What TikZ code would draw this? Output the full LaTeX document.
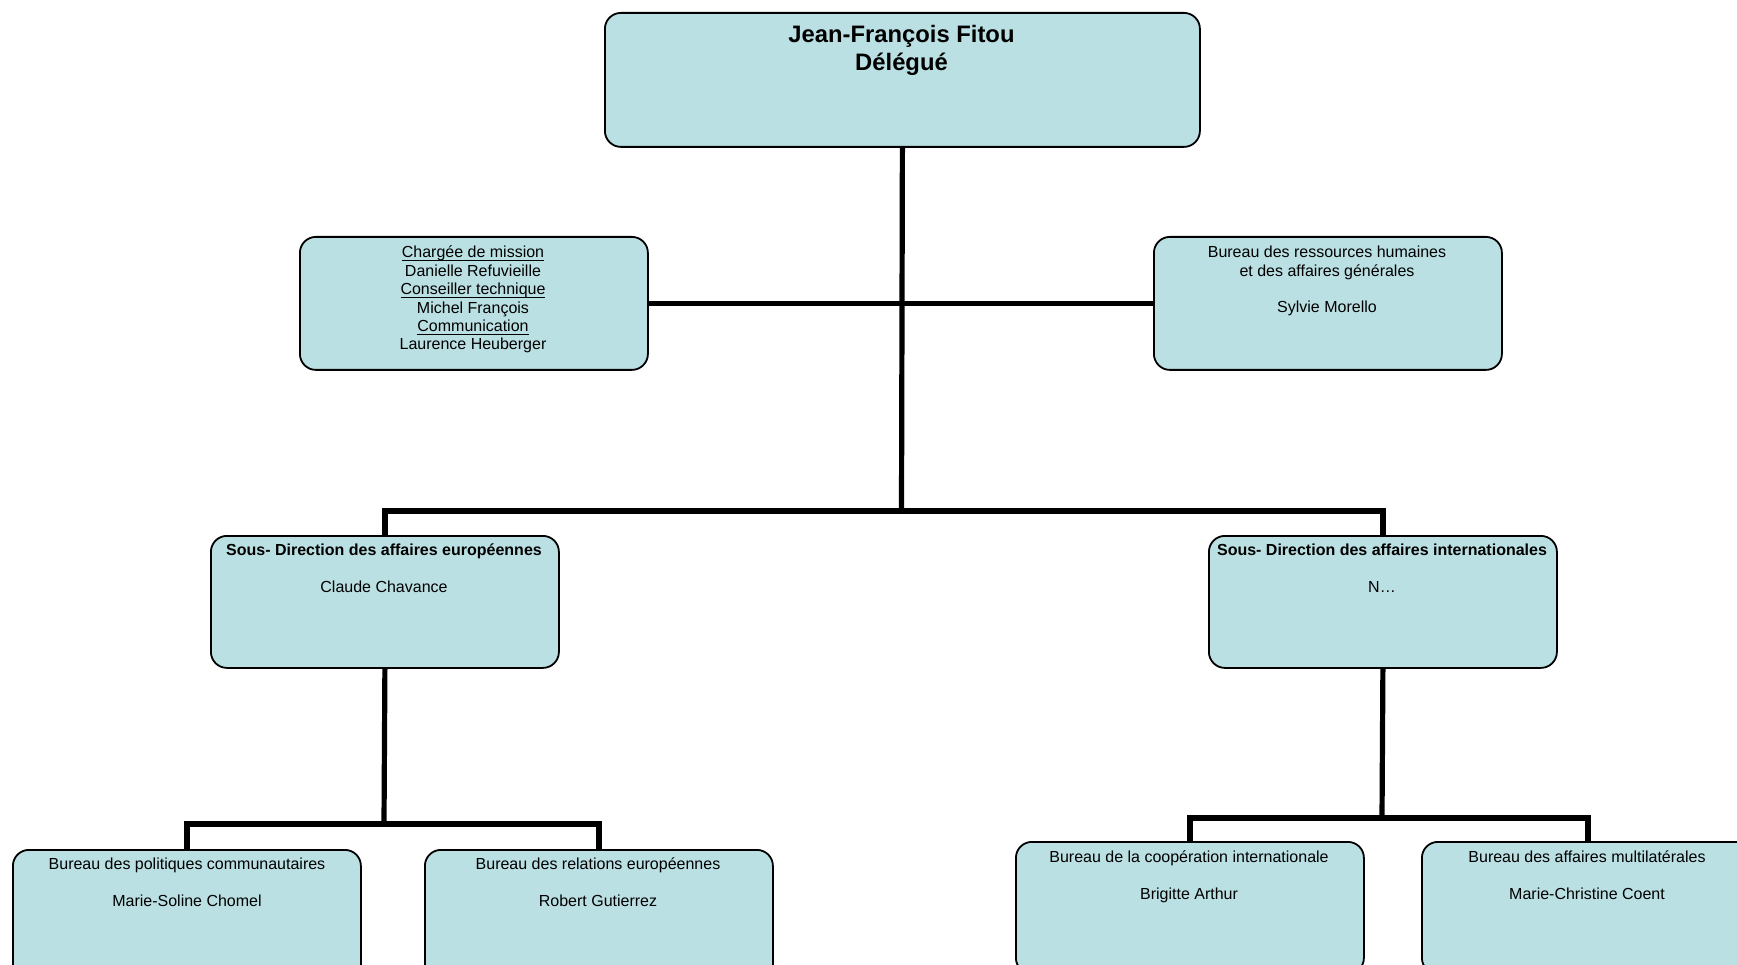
\documentclass[tikz,border=0pt]{standalone}
\usepackage{fontspec}
\setmainfont{Liberation Sans}
\definecolor{boxfill}{RGB}{187,224,227}
\newcommand{\myul}[1]{\setbox0\hbox{#1}\rlap{\rule[-3pt]{\wd0}{1pt}}\box0}
\begin{document}
\begin{tikzpicture}[x=1pt,y=-1pt,
  box/.style={draw=black, line width=1.8pt, fill=boxfill, rounded corners=16pt,
    minimum width=348pt, minimum height=132pt, inner sep=0pt, anchor=north west},
  conn/.style={line width=5.2pt, line join=miter},
  txt/.style={anchor=north, align=center, inner sep=0pt, font=\fontsize{16}{18.4}\selectfont},
  ttl/.style={anchor=north, align=center, inner sep=0pt, font=\fontsize{23.8}{28}\selectfont\bfseries}
]
\useasboundingbox (0,0) rectangle (1737,965);
\clip (0,0) rectangle (1737,965);

% boxes
\node[box, minimum width=595pt, minimum height=134pt] (top) at (604,12) {};
\node[box, minimum height=133pt] (lm) at (299,236) {};
\node[box, minimum height=133pt] (rm) at (1153,236) {};
\node[box] (sdl) at (210,535) {};
\node[box] (sdi) at (1208,535) {};
\node[box] (bl1) at (12,849) {};
\node[box] (bl2) at (424,849) {};
\node[box] (br1) at (1015,841) {};
\node[box, minimum width=332pt] (br2) at (1421,841) {};

% connectors
\coordinate (j1) at (901.5,511);
\coordinate (j2) at (384,824);
\coordinate (j3) at (1382,818);
\draw[conn] (top.south) -- (j1);
\draw[conn] (lm.east) -- (rm.west);
\draw[conn] (sdl.north) |- (j1) -| (sdi.north);
\draw[conn] (sdl.south) -- (j2);
\draw[conn] (bl1.north) |- (j2) -| (bl2.north);
\draw[conn] (sdi.south) -- (j3);
\draw[conn] (br1.north) |- (j3) -| (br2.north);

% texts
\node[ttl] (topt) at (901.5,25) {Jean-François Fitou\\Délégué};
\node[txt] (lmt) at (473,246) {\myul{Chargée de mission}\\Danielle Refuvieille\\\myul{Conseiller technique}\\Michel François\\\myul{Communication}\\Laurence Heuberger};
\node[txt] (rmt) at (1327,246) {Bureau des ressources humaines\\et des affaires générales\\[18.4pt]Sylvie Morello};
\node[txt] (sdlt) at (384,544) {\textbf{Sous- Direction des affaires européennes}\\[18.4pt]Claude Chavance};
\node[txt] (sdit) at (1382,544) {\textbf{Sous- Direction des affaires internationales}\\[18.4pt]N…};
\node[txt] (bl1t) at (187,858) {Bureau des politiques communautaires\\[18.4pt]Marie-Soline Chomel};
\node[txt] (bl2t) at (598,858) {Bureau des relations européennes\\[18.4pt]Robert Gutierrez};
\node[txt] (br1t) at (1189,851) {Bureau de la coopération internationale\\[18.4pt]Brigitte Arthur};
\node[txt] (br2t) at (1587,851) {Bureau des affaires multilatérales\\[18.4pt]Marie-Christine Coent};
\end{tikzpicture}
\end{document}
